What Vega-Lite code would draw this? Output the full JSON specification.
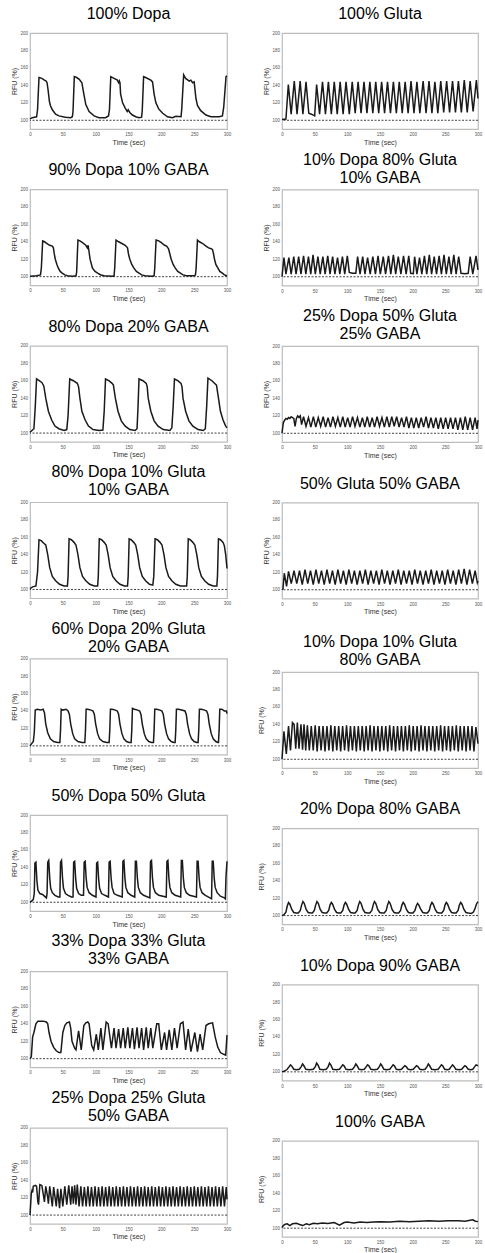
{
"$schema":"https://vega.github.io/schema/vega-lite/v6.json",
"padding":{"left":10,"top":5,"right":0,"bottom":0},
"config":{
 "font":"Liberation Sans",
 "view":{"stroke":"#bdbdbd","strokeWidth":1.2},
 "axis":{"grid":false,"domain":false,"ticks":false,"labelFontSize":4.5,"labelColor":"#555","labelPadding":2.5,"labelFlush":false,"labelOverlap":false,"titleFontSize":7,"titleFontWeight":"normal","titleColor":"#333","titlePadding":2},
 "title":{"fontSize":16,"fontWeight":"normal","color":"#000","lineHeight":18,"anchor":"middle"}
},
"datasets":{
"d1":[{"t":0,"v":101.5},{"t":3.5,"v":103},{"t":10,"v":104},{"t":11.5,"v":112},{"t":13.7,"v":149},{"t":18,"v":148},{"t":22,"v":146},{"t":24.5,"v":145},{"t":26,"v":143},{"t":27.5,"v":135},{"t":29.5,"v":122},{"t":31,"v":117},{"t":34,"v":112},{"t":39,"v":107},{"t":44,"v":105},{"t":54,"v":103.5},{"t":62,"v":103},{"t":64.5,"v":104},{"t":65.5,"v":110},{"t":67.5,"v":150},{"t":71,"v":149},{"t":75,"v":147},{"t":79,"v":143},{"t":82,"v":130},{"t":85,"v":118},{"t":90,"v":110},{"t":97.6,"v":105},{"t":105,"v":103},{"t":115,"v":103},{"t":119.5,"v":105},{"t":121,"v":112},{"t":123,"v":150},{"t":128,"v":148},{"t":133,"v":146},{"t":135,"v":143},{"t":136,"v":145},{"t":137,"v":143},{"t":138,"v":130},{"t":141,"v":120},{"t":145,"v":114},{"t":148,"v":110},{"t":149.5,"v":112},{"t":152,"v":109},{"t":156,"v":106},{"t":161,"v":104},{"t":166,"v":103},{"t":170,"v":103.5},{"t":171,"v":112},{"t":173,"v":150},{"t":176,"v":149},{"t":184,"v":146},{"t":186.6,"v":144},{"t":189,"v":130},{"t":191.7,"v":120},{"t":196,"v":113},{"t":202,"v":108},{"t":209.5,"v":104},{"t":217,"v":103},{"t":222,"v":104.5},{"t":230,"v":104},{"t":231,"v":112},{"t":234,"v":152},{"t":237,"v":148},{"t":242.5,"v":145},{"t":245,"v":146},{"t":247.6,"v":143},{"t":250,"v":144},{"t":252.7,"v":125},{"t":255,"v":117},{"t":260,"v":111},{"t":268,"v":106},{"t":275.5,"v":104},{"t":288,"v":104},{"t":293,"v":105},{"t":295,"v":115},{"t":298.5,"v":150},{"t":300,"v":151}],
"d2":[{"t":0,"v":101},{"t":6,"v":101.5},{"t":9.7,"v":141},{"t":14,"v":107},{"t":18.8,"v":145},{"t":23,"v":107},{"t":27.8,"v":145},{"t":32,"v":107},{"t":36.8,"v":144},{"t":41,"v":108},{"t":45,"v":107},{"t":50,"v":105},{"t":53,"v":141},{"t":57.5,"v":107},{"t":62,"v":144},{"t":66.5,"v":107},{"t":71,"v":144},{"t":75.5,"v":107},{"t":80,"v":144},{"t":84.5,"v":107},{"t":89,"v":144},{"t":93.5,"v":107},{"t":98,"v":144},{"t":103,"v":107},{"t":107.5,"v":144},{"t":112,"v":108},{"t":116.5,"v":144},{"t":121,"v":108},{"t":125.5,"v":144},{"t":130,"v":108},{"t":134.5,"v":144},{"t":139,"v":108},{"t":143.5,"v":144},{"t":148,"v":108},{"t":152.5,"v":144},{"t":157,"v":108},{"t":161.5,"v":144},{"t":166,"v":108},{"t":170.5,"v":144},{"t":175,"v":108},{"t":179.5,"v":144},{"t":184,"v":108},{"t":188.5,"v":144},{"t":193,"v":108},{"t":197.5,"v":145},{"t":202,"v":108},{"t":206.5,"v":144},{"t":211,"v":108},{"t":216,"v":145},{"t":220.5,"v":108},{"t":225,"v":145},{"t":229.5,"v":108},{"t":234,"v":144},{"t":238.5,"v":108},{"t":243,"v":145},{"t":247.5,"v":109},{"t":252,"v":145},{"t":256.5,"v":109},{"t":261,"v":145},{"t":265.5,"v":109},{"t":270,"v":145},{"t":274.5,"v":109},{"t":279,"v":146},{"t":283.5,"v":109},{"t":288,"v":145},{"t":292.5,"v":110},{"t":297.5,"v":146},{"t":300,"v":125}],
"d3":[{"t":0,"v":100.5},{"t":10,"v":101},{"t":16,"v":102},{"t":17.3,"v":110},{"t":19.3,"v":141},{"t":22,"v":140},{"t":26,"v":138},{"t":30,"v":136},{"t":34,"v":135},{"t":35.6,"v":133},{"t":37,"v":126},{"t":38.5,"v":120},{"t":41,"v":114},{"t":43,"v":110},{"t":46,"v":106},{"t":49,"v":104},{"t":53,"v":102},{"t":57,"v":101},{"t":65,"v":100.5},{"t":70,"v":101},{"t":71,"v":105},{"t":73,"v":142},{"t":76,"v":141},{"t":80,"v":139},{"t":85,"v":136},{"t":87.4,"v":133},{"t":88.5,"v":136},{"t":90,"v":128},{"t":91.5,"v":120},{"t":95,"v":110},{"t":99,"v":106},{"t":103,"v":104},{"t":108,"v":102},{"t":113,"v":101},{"t":125,"v":100.5},{"t":128,"v":101},{"t":129,"v":110},{"t":131,"v":142},{"t":135,"v":140},{"t":140,"v":138},{"t":145,"v":136},{"t":148.5,"v":133},{"t":150,"v":126},{"t":152,"v":120},{"t":155,"v":114},{"t":158,"v":110},{"t":162,"v":106},{"t":166,"v":104},{"t":170,"v":102},{"t":175,"v":101},{"t":186,"v":100.5},{"t":189,"v":101},{"t":190,"v":110},{"t":192,"v":142},{"t":196,"v":141},{"t":200,"v":139},{"t":205,"v":136},{"t":208,"v":135},{"t":211,"v":132},{"t":213,"v":126},{"t":215,"v":120},{"t":218,"v":114},{"t":221,"v":110},{"t":225,"v":106},{"t":229,"v":104},{"t":233,"v":102},{"t":238,"v":101},{"t":250,"v":101},{"t":252,"v":102},{"t":253,"v":110},{"t":255,"v":142},{"t":258,"v":140},{"t":263,"v":138},{"t":268,"v":135},{"t":272,"v":133},{"t":276,"v":132},{"t":278,"v":131},{"t":279.5,"v":126},{"t":281,"v":120},{"t":283,"v":114},{"t":286,"v":110},{"t":289,"v":106},{"t":293,"v":104},{"t":296,"v":102},{"t":300,"v":101}],
"d4":[{"t":0,"v":100},{"t":3,"v":122},{"t":6,"v":103},{"t":10.5,"v":122},{"t":14,"v":103},{"t":18,"v":123},{"t":21.5,"v":103},{"t":25.5,"v":123},{"t":29,"v":103},{"t":33,"v":124},{"t":36.5,"v":103},{"t":40.5,"v":123},{"t":44,"v":103},{"t":47.5,"v":125},{"t":51,"v":103},{"t":55,"v":123},{"t":58.5,"v":103},{"t":62.5,"v":123},{"t":66,"v":103},{"t":70,"v":124},{"t":73.5,"v":103},{"t":77.5,"v":123},{"t":81,"v":103},{"t":85,"v":122},{"t":88.5,"v":103},{"t":92.5,"v":123},{"t":96,"v":103},{"t":100,"v":124},{"t":103,"v":105},{"t":108,"v":104},{"t":113,"v":104},{"t":115.7,"v":123},{"t":119.5,"v":103},{"t":123.5,"v":123},{"t":127,"v":103},{"t":131,"v":122},{"t":135,"v":103},{"t":139,"v":123},{"t":143,"v":103},{"t":147,"v":124},{"t":150.5,"v":103},{"t":155,"v":123},{"t":158.5,"v":103},{"t":163,"v":124},{"t":166.5,"v":103},{"t":170.5,"v":125},{"t":174,"v":103},{"t":178,"v":123},{"t":182,"v":103},{"t":186,"v":124},{"t":190,"v":103},{"t":194,"v":124},{"t":197,"v":104},{"t":201,"v":103.5},{"t":203,"v":123},{"t":206.5,"v":103},{"t":210.5,"v":122},{"t":214,"v":103},{"t":218,"v":124},{"t":221.5,"v":103},{"t":225.5,"v":125},{"t":229,"v":103},{"t":233,"v":123},{"t":236.5,"v":103},{"t":240.5,"v":124},{"t":244,"v":103},{"t":248,"v":125},{"t":251.5,"v":103},{"t":255.5,"v":123},{"t":259,"v":103},{"t":263,"v":125},{"t":266.5,"v":103},{"t":270.5,"v":123},{"t":274,"v":104},{"t":280,"v":103.5},{"t":285,"v":104},{"t":288,"v":123},{"t":292,"v":103},{"t":297,"v":124},{"t":300,"v":108}],
"d5":[{"t":0,"v":101},{"t":3,"v":103},{"t":6,"v":105},{"t":8,"v":130},{"t":10,"v":162},{"t":14,"v":160},{"t":18,"v":158},{"t":21,"v":154},{"t":24,"v":140},{"t":28,"v":125},{"t":33,"v":115},{"t":38,"v":108},{"t":44,"v":105},{"t":52,"v":103},{"t":56,"v":104},{"t":58,"v":120},{"t":60.5,"v":162},{"t":66,"v":160},{"t":72,"v":157},{"t":74,"v":153},{"t":76,"v":140},{"t":79,"v":125},{"t":84,"v":115},{"t":89,"v":108},{"t":96,"v":104},{"t":105,"v":103},{"t":111,"v":103.5},{"t":113,"v":125},{"t":115,"v":162},{"t":120,"v":160},{"t":125,"v":157},{"t":127,"v":155},{"t":130,"v":140},{"t":134,"v":125},{"t":139,"v":114},{"t":145,"v":108},{"t":152,"v":104},{"t":160,"v":103},{"t":163,"v":105},{"t":164.5,"v":130},{"t":166,"v":162},{"t":172,"v":160},{"t":177,"v":157},{"t":178.5,"v":153},{"t":180,"v":140},{"t":184,"v":125},{"t":189,"v":114},{"t":195,"v":108},{"t":203,"v":104},{"t":213,"v":103},{"t":216,"v":106},{"t":218,"v":130},{"t":220,"v":162},{"t":225,"v":160},{"t":230,"v":157},{"t":231.5,"v":153},{"t":233,"v":140},{"t":237,"v":125},{"t":242,"v":114},{"t":248,"v":108},{"t":256,"v":104},{"t":264,"v":103},{"t":267,"v":105},{"t":269,"v":130},{"t":271,"v":163},{"t":277,"v":160},{"t":281,"v":157},{"t":284,"v":155},{"t":287,"v":140},{"t":290,"v":125},{"t":294,"v":115},{"t":298,"v":108},{"t":300,"v":106}],
"d6":[{"t":0,"v":100},{"t":2,"v":112},{"t":4,"v":115},{"t":6,"v":117},{"t":8,"v":116},{"t":10,"v":118},{"t":12,"v":117},{"t":14,"v":119},{"t":16,"v":118},{"t":18,"v":117},{"t":20,"v":108},{"t":22,"v":117},{"t":24,"v":120},{"t":26,"v":118},{"t":28,"v":120},{"t":30,"v":110},{"t":33,"v":119},{"t":36.7,"v":108},{"t":40.5,"v":118},{"t":44.2,"v":107},{"t":48,"v":119},{"t":51.7,"v":107},{"t":55.5,"v":118},{"t":59.2,"v":108},{"t":63,"v":119},{"t":66.7,"v":107},{"t":70.5,"v":118},{"t":74.2,"v":107},{"t":78,"v":119},{"t":81.7,"v":108},{"t":85.5,"v":118},{"t":89.2,"v":107},{"t":93,"v":119},{"t":96.7,"v":107},{"t":100.5,"v":118},{"t":104.2,"v":107},{"t":108,"v":119},{"t":111.7,"v":108},{"t":115.5,"v":118},{"t":119.2,"v":107},{"t":123,"v":118},{"t":126.7,"v":107},{"t":130.5,"v":119},{"t":134.2,"v":107},{"t":138,"v":118},{"t":141.7,"v":107},{"t":145.5,"v":119},{"t":149.2,"v":108},{"t":153,"v":118},{"t":156.7,"v":107},{"t":160.5,"v":119},{"t":164.2,"v":107},{"t":168,"v":119},{"t":171.7,"v":108},{"t":175.5,"v":119},{"t":179.2,"v":107},{"t":183,"v":118},{"t":186.7,"v":107},{"t":190.5,"v":119},{"t":194.2,"v":106},{"t":198,"v":118},{"t":201.7,"v":106},{"t":205.5,"v":118},{"t":209.2,"v":106},{"t":213,"v":118},{"t":216.7,"v":107},{"t":220.5,"v":119},{"t":224.2,"v":106},{"t":228,"v":118},{"t":231.7,"v":106},{"t":235.5,"v":118},{"t":239.2,"v":105},{"t":243,"v":118},{"t":246.7,"v":105},{"t":250.5,"v":118},{"t":254.2,"v":105},{"t":258,"v":118},{"t":261.7,"v":105},{"t":265.5,"v":118},{"t":269.2,"v":104},{"t":273,"v":118},{"t":276.7,"v":104},{"t":280.5,"v":119},{"t":284.2,"v":104},{"t":288,"v":118},{"t":291.7,"v":104},{"t":295.5,"v":118},{"t":298.5,"v":105},{"t":300,"v":115}],
"d7":[{"t":0,"v":101},{"t":4,"v":103},{"t":9,"v":104},{"t":11.5,"v":120},{"t":13.7,"v":157},{"t":17,"v":156},{"t":21,"v":153},{"t":24,"v":151},{"t":27,"v":140},{"t":30,"v":125},{"t":34,"v":115},{"t":39,"v":110},{"t":45,"v":106},{"t":52,"v":104},{"t":57,"v":104},{"t":58,"v":115},{"t":59.5,"v":158},{"t":63,"v":157},{"t":67,"v":154},{"t":70,"v":151},{"t":73,"v":140},{"t":76,"v":125},{"t":80,"v":115},{"t":85,"v":110},{"t":91,"v":106},{"t":98,"v":104},{"t":103,"v":104},{"t":104,"v":115},{"t":105.5,"v":158},{"t":109,"v":157},{"t":113,"v":154},{"t":116,"v":151},{"t":119,"v":140},{"t":122,"v":125},{"t":126,"v":115},{"t":131,"v":110},{"t":137,"v":106},{"t":144,"v":104},{"t":148.5,"v":104},{"t":149.5,"v":115},{"t":151,"v":158},{"t":154,"v":157},{"t":158,"v":154},{"t":161,"v":151},{"t":164,"v":140},{"t":167,"v":125},{"t":171,"v":115},{"t":176,"v":110},{"t":182,"v":106},{"t":187,"v":105},{"t":188.5,"v":115},{"t":190.5,"v":158},{"t":194,"v":157},{"t":198,"v":154},{"t":201,"v":151},{"t":204,"v":140},{"t":207,"v":125},{"t":211,"v":115},{"t":216,"v":110},{"t":222,"v":106},{"t":229,"v":104},{"t":238.5,"v":104},{"t":239.5,"v":115},{"t":241,"v":158},{"t":244,"v":157},{"t":248,"v":154},{"t":251,"v":151},{"t":254,"v":140},{"t":257,"v":125},{"t":261,"v":115},{"t":266,"v":110},{"t":272,"v":106},{"t":279,"v":104},{"t":284.5,"v":104},{"t":285.5,"v":115},{"t":287,"v":158},{"t":290,"v":157},{"t":294,"v":154},{"t":296,"v":150},{"t":298,"v":140},{"t":300,"v":124}],
"d8":[{"t":0,"v":100},{"t":1.5,"v":101},{"t":3.5,"v":119},{"t":7,"v":104},{"t":10,"v":121},{"t":14.2,"v":107},{"t":18.4,"v":122},{"t":22.6,"v":107},{"t":26.8,"v":122},{"t":31,"v":106},{"t":35.2,"v":123},{"t":39.4,"v":107},{"t":43.6,"v":122},{"t":47.8,"v":106},{"t":52,"v":123},{"t":56.2,"v":107},{"t":60.4,"v":122},{"t":64.6,"v":106},{"t":68.8,"v":123},{"t":73,"v":107},{"t":77.2,"v":122},{"t":81.4,"v":106},{"t":85.6,"v":123},{"t":89.8,"v":107},{"t":94,"v":122},{"t":98.2,"v":106},{"t":102.4,"v":123},{"t":106.6,"v":107},{"t":110.8,"v":122},{"t":115,"v":106},{"t":119.2,"v":122},{"t":123.4,"v":107},{"t":127.6,"v":123},{"t":131.8,"v":106},{"t":136,"v":122},{"t":140.2,"v":107},{"t":144.4,"v":122},{"t":148.6,"v":106},{"t":152.8,"v":123},{"t":157,"v":107},{"t":161.2,"v":122},{"t":165.4,"v":106},{"t":169.6,"v":122},{"t":173.8,"v":107},{"t":178,"v":123},{"t":182.2,"v":106},{"t":186.4,"v":122},{"t":190.6,"v":107},{"t":194.8,"v":122},{"t":199,"v":106},{"t":203.2,"v":123},{"t":207.4,"v":107},{"t":211.6,"v":122},{"t":215.8,"v":106},{"t":220,"v":122},{"t":224.2,"v":107},{"t":228.4,"v":123},{"t":232.6,"v":106},{"t":236.8,"v":122},{"t":241,"v":107},{"t":245.2,"v":122},{"t":249.4,"v":106},{"t":253.6,"v":123},{"t":257.8,"v":107},{"t":262,"v":122},{"t":266.2,"v":106},{"t":270.4,"v":123},{"t":274.6,"v":107},{"t":278.8,"v":124},{"t":283,"v":106},{"t":287.2,"v":123},{"t":291.4,"v":107},{"t":295.6,"v":122},{"t":299,"v":108},{"t":300,"v":110}],
"d9":[{"t":0,"v":100},{"t":2,"v":102},{"t":5,"v":105},{"t":6.5,"v":115},{"t":8,"v":141},{"t":11,"v":142},{"t":16,"v":141},{"t":20,"v":142},{"t":22,"v":138},{"t":24,"v":125},{"t":27,"v":115},{"t":31,"v":108},{"t":36,"v":105},{"t":42,"v":104},{"t":45.5,"v":104},{"t":46.5,"v":118},{"t":47.5,"v":142},{"t":50,"v":141},{"t":55,"v":142},{"t":58,"v":140},{"t":60,"v":136},{"t":62,"v":125},{"t":65,"v":114},{"t":68,"v":108},{"t":73,"v":105},{"t":79,"v":104},{"t":83.5,"v":104},{"t":84.5,"v":118},{"t":85.5,"v":142},{"t":88,"v":142},{"t":93,"v":141},{"t":96,"v":140},{"t":98,"v":136},{"t":100,"v":125},{"t":103,"v":114},{"t":106,"v":108},{"t":111,"v":105},{"t":117,"v":104},{"t":120.5,"v":104},{"t":121.5,"v":118},{"t":122.5,"v":142},{"t":125,"v":142},{"t":130,"v":141},{"t":133,"v":140},{"t":135,"v":136},{"t":137,"v":125},{"t":140,"v":114},{"t":143,"v":108},{"t":147,"v":105},{"t":151,"v":104},{"t":154,"v":104},{"t":155,"v":118},{"t":156,"v":143},{"t":159,"v":142},{"t":164,"v":141},{"t":167,"v":140},{"t":169,"v":136},{"t":171,"v":125},{"t":174,"v":114},{"t":177,"v":108},{"t":181,"v":105},{"t":185,"v":104},{"t":188,"v":104},{"t":189,"v":118},{"t":190,"v":142},{"t":193,"v":142},{"t":198,"v":141},{"t":201,"v":140},{"t":203,"v":136},{"t":205,"v":125},{"t":208,"v":114},{"t":211,"v":108},{"t":215,"v":105},{"t":219,"v":104},{"t":221,"v":104},{"t":222,"v":118},{"t":223,"v":142},{"t":226,"v":142},{"t":231,"v":141},{"t":236,"v":140},{"t":238,"v":136},{"t":240,"v":125},{"t":243,"v":114},{"t":246,"v":108},{"t":250,"v":105},{"t":254,"v":104},{"t":256,"v":104},{"t":257,"v":118},{"t":258,"v":142},{"t":261,"v":142},{"t":266,"v":141},{"t":269,"v":140},{"t":271,"v":136},{"t":273,"v":125},{"t":276,"v":114},{"t":279,"v":108},{"t":283,"v":105},{"t":286,"v":104},{"t":287,"v":104},{"t":288,"v":118},{"t":289,"v":142},{"t":292,"v":142},{"t":296,"v":140},{"t":299,"v":140},{"t":300,"v":137}],
"d10":[{"t":0,"v":100},{"t":3,"v":132},{"t":6.6,"v":106},{"t":10,"v":138},{"t":13,"v":110},{"t":16,"v":142},{"t":18.5,"v":140},{"t":21,"v":112},{"t":23.5,"v":142},{"t":26,"v":112},{"t":29,"v":140},{"t":31.5,"v":111},{"t":33.7,"v":140},{"t":36.3,"v":110},{"t":38.8,"v":139},{"t":41.8,"v":110},{"t":44.8,"v":138},{"t":47.8,"v":110},{"t":50.8,"v":139},{"t":53.8,"v":109},{"t":56.8,"v":138},{"t":59.8,"v":110},{"t":62.8,"v":138},{"t":65.8,"v":109},{"t":68.8,"v":138},{"t":71.8,"v":110},{"t":74.8,"v":139},{"t":77.8,"v":109},{"t":80.8,"v":138},{"t":83.8,"v":110},{"t":86.8,"v":138},{"t":89.8,"v":109},{"t":92.8,"v":138},{"t":95.8,"v":110},{"t":98.8,"v":139},{"t":101.8,"v":109},{"t":104.8,"v":138},{"t":107.8,"v":110},{"t":110.8,"v":138},{"t":113.8,"v":109},{"t":116.8,"v":138},{"t":119.8,"v":110},{"t":122.8,"v":138},{"t":125.8,"v":109},{"t":128.8,"v":138},{"t":131.8,"v":110},{"t":134.8,"v":139},{"t":137.8,"v":109},{"t":140.8,"v":138},{"t":143.8,"v":110},{"t":146.8,"v":138},{"t":149.8,"v":109},{"t":152.8,"v":138},{"t":155.8,"v":110},{"t":158.8,"v":138},{"t":161.8,"v":109},{"t":164.8,"v":139},{"t":167.8,"v":110},{"t":170.8,"v":138},{"t":173.8,"v":109},{"t":176.8,"v":138},{"t":179.8,"v":110},{"t":182.8,"v":138},{"t":185.8,"v":109},{"t":188.8,"v":138},{"t":191.8,"v":110},{"t":194.8,"v":139},{"t":197.8,"v":109},{"t":200.8,"v":138},{"t":203.8,"v":110},{"t":206.8,"v":138},{"t":209.8,"v":109},{"t":212.8,"v":139},{"t":215.8,"v":110},{"t":218.8,"v":138},{"t":221.8,"v":109},{"t":224.8,"v":138},{"t":227.8,"v":110},{"t":230.8,"v":138},{"t":233.8,"v":109},{"t":236.8,"v":138},{"t":239.8,"v":110},{"t":242.8,"v":139},{"t":245.8,"v":109},{"t":248.8,"v":138},{"t":251.8,"v":110},{"t":254.8,"v":138},{"t":257.8,"v":109},{"t":260.8,"v":138},{"t":263.8,"v":110},{"t":266.8,"v":139},{"t":269.8,"v":109},{"t":272.8,"v":138},{"t":275.8,"v":110},{"t":278.8,"v":138},{"t":281.8,"v":109},{"t":284.8,"v":138},{"t":287.8,"v":110},{"t":290.8,"v":138},{"t":293.8,"v":109},{"t":296.8,"v":137},{"t":300,"v":118}],
"d11":[{"t":0,"v":100},{"t":2,"v":101},{"t":5,"v":103},{"t":6.5,"v":110},{"t":7.5,"v":145},{"t":9,"v":146},{"t":10.5,"v":125},{"t":12,"v":114},{"t":15,"v":110},{"t":19,"v":109},{"t":22,"v":107},{"t":25,"v":105},{"t":26,"v":110},{"t":27,"v":146},{"t":28.5,"v":148},{"t":30,"v":128},{"t":31.5,"v":116},{"t":34,"v":111},{"t":38,"v":108},{"t":43,"v":106},{"t":45.5,"v":106},{"t":46.5,"v":146},{"t":48,"v":148},{"t":49.5,"v":128},{"t":51,"v":116},{"t":54,"v":110},{"t":58,"v":108},{"t":63,"v":106},{"t":65.5,"v":106},{"t":66.5,"v":146},{"t":68,"v":147},{"t":69.5,"v":128},{"t":71,"v":116},{"t":74,"v":110},{"t":78,"v":108},{"t":81.5,"v":108},{"t":82.5,"v":146},{"t":84,"v":147},{"t":85.5,"v":128},{"t":87,"v":117},{"t":90,"v":111},{"t":95,"v":108},{"t":100.5,"v":106},{"t":101.5,"v":145},{"t":103,"v":146},{"t":104.5,"v":127},{"t":106,"v":116},{"t":109,"v":110},{"t":114,"v":108},{"t":119.5,"v":106},{"t":120.5,"v":146},{"t":122,"v":147},{"t":123.5,"v":128},{"t":125,"v":117},{"t":128,"v":110},{"t":133,"v":108},{"t":140.5,"v":106},{"t":141.5,"v":147},{"t":143,"v":148},{"t":144.5,"v":128},{"t":146,"v":117},{"t":149,"v":111},{"t":154,"v":108},{"t":159.5,"v":106},{"t":160.5,"v":147},{"t":162,"v":147},{"t":163.5,"v":128},{"t":165,"v":117},{"t":168,"v":111},{"t":173,"v":108},{"t":182.5,"v":105},{"t":183.5,"v":147},{"t":185,"v":148},{"t":186.5,"v":128},{"t":188,"v":117},{"t":191,"v":111},{"t":196,"v":108},{"t":207.5,"v":106},{"t":208.5,"v":147},{"t":210,"v":148},{"t":211.5,"v":128},{"t":213,"v":117},{"t":216,"v":111},{"t":221,"v":108},{"t":229.5,"v":106},{"t":230.5,"v":148},{"t":232,"v":148},{"t":233.5,"v":128},{"t":235,"v":117},{"t":238,"v":111},{"t":243,"v":108},{"t":253.5,"v":106},{"t":254.5,"v":147},{"t":256,"v":147},{"t":257.5,"v":128},{"t":259,"v":117},{"t":262,"v":111},{"t":267,"v":108},{"t":272,"v":106},{"t":276.5,"v":104},{"t":277.5,"v":147},{"t":279,"v":147},{"t":280.5,"v":128},{"t":282,"v":117},{"t":285,"v":111},{"t":290,"v":107},{"t":296,"v":105},{"t":297.5,"v":104},{"t":298.5,"v":130},{"t":300,"v":147}],
"d12":[{"t":0,"v":100},{"t":3,"v":101},{"t":6,"v":104},{"t":8,"v":111},{"t":10,"v":115},{"t":12,"v":113},{"t":15,"v":107},{"t":18,"v":103.5},{"t":22,"v":103},{"t":25,"v":103},{"t":28,"v":106},{"t":30,"v":112},{"t":32,"v":116},{"t":34,"v":114},{"t":37,"v":107},{"t":40,"v":103.5},{"t":44,"v":103},{"t":46.5,"v":103},{"t":49.5,"v":106},{"t":51.5,"v":112},{"t":53.5,"v":116},{"t":55.5,"v":114},{"t":58.5,"v":107},{"t":61.5,"v":103.5},{"t":65,"v":103},{"t":68.5,"v":103},{"t":71.5,"v":106},{"t":73.5,"v":112},{"t":75.5,"v":115},{"t":77.5,"v":113},{"t":80.5,"v":107},{"t":83.5,"v":103.5},{"t":87,"v":103},{"t":90,"v":103},{"t":93,"v":106},{"t":95,"v":112},{"t":97,"v":115},{"t":99,"v":113},{"t":102,"v":107},{"t":105,"v":103.5},{"t":109,"v":103},{"t":112,"v":103},{"t":115,"v":106},{"t":117,"v":112},{"t":119,"v":116},{"t":121,"v":114},{"t":124,"v":107},{"t":127,"v":103.5},{"t":131,"v":103},{"t":134.5,"v":103},{"t":137.5,"v":106},{"t":139.5,"v":112},{"t":141.5,"v":116},{"t":143.5,"v":114},{"t":146.5,"v":107},{"t":149.5,"v":103.5},{"t":153,"v":103},{"t":156.5,"v":103},{"t":159.5,"v":106},{"t":161.5,"v":112},{"t":163.5,"v":116},{"t":165.5,"v":114},{"t":168.5,"v":107},{"t":171.5,"v":103.5},{"t":175,"v":103},{"t":178.5,"v":103},{"t":181.5,"v":106},{"t":183.5,"v":112},{"t":185.5,"v":115},{"t":187.5,"v":113},{"t":190.5,"v":107},{"t":193.5,"v":103.5},{"t":197,"v":103},{"t":200.5,"v":103},{"t":203.5,"v":106},{"t":205.5,"v":111},{"t":207.5,"v":114},{"t":209.5,"v":112},{"t":212.5,"v":107},{"t":215.5,"v":103.5},{"t":219,"v":103},{"t":222.5,"v":103},{"t":225.5,"v":106},{"t":227.5,"v":112},{"t":229.5,"v":115},{"t":231.5,"v":113},{"t":234.5,"v":107},{"t":237.5,"v":103.5},{"t":241,"v":103},{"t":244.5,"v":103},{"t":247.5,"v":106},{"t":249.5,"v":112},{"t":251.5,"v":115},{"t":253.5,"v":113},{"t":256.5,"v":107},{"t":259.5,"v":103.5},{"t":263,"v":103},{"t":266.5,"v":103},{"t":269.5,"v":106},{"t":271.5,"v":112},{"t":273.5,"v":115},{"t":275.5,"v":113},{"t":278.5,"v":107},{"t":281.5,"v":103.5},{"t":285,"v":103},{"t":290,"v":102.5},{"t":293,"v":104},{"t":295.5,"v":108},{"t":297.5,"v":113},{"t":300,"v":116}],
"d13":[{"t":0,"v":100},{"t":2,"v":102},{"t":4,"v":125},{"t":6,"v":130},{"t":9,"v":140},{"t":12,"v":143},{"t":20,"v":143},{"t":25,"v":142},{"t":27,"v":140},{"t":29,"v":130},{"t":32,"v":120},{"t":36,"v":113},{"t":40,"v":109},{"t":44,"v":107},{"t":47,"v":107},{"t":50,"v":130},{"t":53,"v":138},{"t":56,"v":141},{"t":60,"v":142},{"t":62,"v":135},{"t":64,"v":120},{"t":68,"v":112},{"t":70,"v":110},{"t":74,"v":132},{"t":78,"v":110},{"t":82,"v":138},{"t":85,"v":141},{"t":88,"v":142},{"t":90,"v":140},{"t":94,"v":115},{"t":97,"v":110},{"t":101,"v":128},{"t":104,"v":110},{"t":108,"v":135},{"t":111,"v":110},{"t":116,"v":142},{"t":119,"v":140},{"t":124,"v":112},{"t":128,"v":135},{"t":131,"v":112},{"t":135,"v":134},{"t":138,"v":112},{"t":142,"v":135},{"t":145,"v":112},{"t":149,"v":136},{"t":152,"v":112},{"t":156,"v":135},{"t":159,"v":111},{"t":163,"v":136},{"t":166,"v":112},{"t":170,"v":135},{"t":173,"v":110},{"t":177,"v":136},{"t":180,"v":112},{"t":184,"v":135},{"t":187,"v":112},{"t":193,"v":140},{"t":196,"v":140},{"t":200,"v":110},{"t":205,"v":130},{"t":208,"v":110},{"t":212,"v":133},{"t":216,"v":110},{"t":220,"v":135},{"t":224,"v":112},{"t":229,"v":140},{"t":233,"v":142},{"t":237,"v":110},{"t":241,"v":134},{"t":245,"v":108},{"t":251,"v":130},{"t":255,"v":108},{"t":259,"v":128},{"t":263,"v":110},{"t":268,"v":138},{"t":272,"v":140},{"t":278,"v":141},{"t":282,"v":125},{"t":286,"v":113},{"t":290,"v":107},{"t":295,"v":105},{"t":298,"v":104},{"t":300,"v":127}],
"d14":[{"t":0,"v":100},{"t":4,"v":101},{"t":8,"v":103},{"t":11,"v":106},{"t":13,"v":108},{"t":15,"v":106.5},{"t":18,"v":103},{"t":22,"v":102.5},{"t":26.5,"v":103},{"t":29.5,"v":106},{"t":31.5,"v":109},{"t":33.5,"v":107},{"t":36.5,"v":103},{"t":42,"v":102.5},{"t":48,"v":103},{"t":51,"v":106},{"t":53,"v":110},{"t":55,"v":108},{"t":58,"v":103},{"t":63,"v":102.5},{"t":67.7,"v":103},{"t":70.7,"v":106},{"t":72.7,"v":110},{"t":74.7,"v":108},{"t":77.7,"v":103},{"t":83,"v":102.5},{"t":88,"v":103},{"t":91,"v":106},{"t":93,"v":108},{"t":95,"v":107},{"t":98,"v":103},{"t":103,"v":102.5},{"t":108,"v":103},{"t":111,"v":106},{"t":113,"v":109},{"t":115,"v":107},{"t":118,"v":103},{"t":122,"v":102.5},{"t":126,"v":103},{"t":129,"v":106},{"t":131,"v":108},{"t":133,"v":107},{"t":136,"v":103},{"t":141,"v":102.5},{"t":146,"v":103},{"t":149,"v":106},{"t":151,"v":109},{"t":153,"v":107},{"t":156,"v":103},{"t":160,"v":102.5},{"t":165,"v":103},{"t":168,"v":106},{"t":170,"v":108},{"t":172,"v":107},{"t":175,"v":103},{"t":179,"v":102.5},{"t":183,"v":103},{"t":186,"v":105.5},{"t":188,"v":107},{"t":190,"v":106},{"t":193,"v":103},{"t":197,"v":102.5},{"t":201,"v":103},{"t":204,"v":105.5},{"t":206,"v":107},{"t":208,"v":106},{"t":211,"v":103},{"t":215,"v":102.5},{"t":219,"v":103},{"t":222,"v":106},{"t":224,"v":109},{"t":226,"v":107},{"t":229,"v":103},{"t":234,"v":102.5},{"t":239,"v":103},{"t":242,"v":106},{"t":244,"v":108},{"t":246,"v":107},{"t":249,"v":103},{"t":253,"v":102.5},{"t":256,"v":103},{"t":259,"v":106},{"t":261,"v":108},{"t":263,"v":106.5},{"t":266,"v":103},{"t":271,"v":102.5},{"t":275,"v":103},{"t":278,"v":105.5},{"t":280,"v":107},{"t":282,"v":106},{"t":285,"v":103},{"t":289,"v":102.5},{"t":292,"v":103},{"t":295,"v":106},{"t":297,"v":108},{"t":300,"v":107}],
"d15":[{"t":0,"v":100},{"t":2,"v":125},{"t":3,"v":128},{"t":4,"v":126},{"t":5,"v":133},{"t":8,"v":134},{"t":10,"v":133},{"t":12,"v":115},{"t":13,"v":112},{"t":15,"v":135},{"t":18,"v":134},{"t":20,"v":125},{"t":22,"v":115},{"t":24,"v":133},{"t":27,"v":120},{"t":28,"v":113},{"t":30,"v":133},{"t":34,"v":110},{"t":36,"v":132},{"t":40,"v":110},{"t":42,"v":130},{"t":45,"v":108},{"t":47,"v":130},{"t":50,"v":110},{"t":53,"v":133},{"t":56,"v":112},{"t":59,"v":134},{"t":62,"v":112},{"t":64,"v":133},{"t":66,"v":113},{"t":68,"v":134},{"t":70,"v":112},{"t":72,"v":135},{"t":74.7,"v":110},{"t":77.4,"v":133},{"t":80.1,"v":110},{"t":82.8,"v":132},{"t":85.5,"v":110},{"t":88.2,"v":133},{"t":90.9,"v":110},{"t":93.6,"v":132},{"t":96.3,"v":110},{"t":99,"v":133},{"t":101.7,"v":110},{"t":104.4,"v":132},{"t":107.1,"v":110},{"t":109.8,"v":133},{"t":112.5,"v":110},{"t":115.2,"v":132},{"t":117.9,"v":110},{"t":120.6,"v":133},{"t":123.3,"v":110},{"t":126,"v":132},{"t":128.7,"v":110},{"t":131.4,"v":133},{"t":134.1,"v":110},{"t":136.8,"v":132},{"t":139.5,"v":110},{"t":142.2,"v":133},{"t":144.9,"v":110},{"t":147.6,"v":132},{"t":150.3,"v":110},{"t":153,"v":133},{"t":155.7,"v":110},{"t":158.4,"v":132},{"t":161.1,"v":110},{"t":163.8,"v":133},{"t":166.5,"v":110},{"t":169.2,"v":132},{"t":171.9,"v":110},{"t":174.6,"v":133},{"t":177.3,"v":110},{"t":180,"v":132},{"t":182.7,"v":110},{"t":185.4,"v":133},{"t":188.1,"v":110},{"t":190.8,"v":132},{"t":193.5,"v":110},{"t":196.2,"v":133},{"t":198.9,"v":110},{"t":201.6,"v":132},{"t":204.3,"v":110},{"t":207,"v":133},{"t":209.7,"v":110},{"t":212.4,"v":132},{"t":215.1,"v":110},{"t":217.8,"v":133},{"t":220.5,"v":110},{"t":223.2,"v":132},{"t":225.9,"v":110},{"t":228.6,"v":133},{"t":231.3,"v":110},{"t":234,"v":132},{"t":236.7,"v":110},{"t":239.4,"v":133},{"t":242.1,"v":110},{"t":244.8,"v":132},{"t":247.5,"v":110},{"t":250.2,"v":133},{"t":252.9,"v":110},{"t":255.6,"v":132},{"t":258.3,"v":110},{"t":261,"v":133},{"t":263.7,"v":110},{"t":266.4,"v":132},{"t":269.1,"v":110},{"t":271.8,"v":133},{"t":274.5,"v":110},{"t":277.2,"v":132},{"t":279.9,"v":110},{"t":282.6,"v":133},{"t":285.3,"v":110},{"t":288,"v":132},{"t":290.7,"v":110},{"t":293.4,"v":133},{"t":296.1,"v":110},{"t":298.8,"v":132},{"t":300,"v":118}],
"d16":[{"t":0,"v":100.5},{"t":2,"v":103},{"t":5,"v":104.5},{"t":8,"v":105},{"t":12,"v":103},{"t":16,"v":105},{"t":22,"v":105.5},{"t":28,"v":104},{"t":32,"v":103},{"t":37,"v":105},{"t":42,"v":104},{"t":48,"v":105.5},{"t":54,"v":105},{"t":62,"v":106},{"t":70,"v":105.5},{"t":80,"v":106.5},{"t":88,"v":103.5},{"t":95,"v":106.5},{"t":100,"v":107},{"t":110,"v":106},{"t":120,"v":107},{"t":130,"v":106.5},{"t":140,"v":107},{"t":150,"v":107.5},{"t":165,"v":107},{"t":180,"v":108},{"t":195,"v":107.5},{"t":210,"v":108},{"t":225,"v":108.5},{"t":240,"v":108},{"t":255,"v":108.5},{"t":270,"v":108.5},{"t":280,"v":108},{"t":292,"v":109.5},{"t":296,"v":108},{"t":300,"v":107.5}]
},
"hconcat":[
 {"vconcat":[
  {"title":{"text":"100% Dopa","offset":8},"width":197,"height":96,"layer":[{"data":{"name":"d1"},"mark":{"type":"line","color":"#1a1a1a","strokeWidth":1.5},"encoding":{"x":{"field":"t","type":"quantitative","scale":{"domain":[0,300],"nice":false},"axis":{"values":[0,50,100,150,200,250,300],"tickCount":10,"title":"Time (sec)"}},"y":{"field":"v","type":"quantitative","scale":{"domain":[90,200],"nice":false},"axis":{"values":[100,120,140,160,180,200],"tickCount":10,"title":"RFU (%)"}}}},{"data":{"values":[{}]},"mark":{"type":"rule","strokeDash":[2,1.5],"color":"#111","strokeWidth":0.8},"encoding":{"y":{"datum":100}}}]},
  {"title":{"text":"90% Dopa 10% GABA","offset":8},"width":197,"height":96,"layer":[{"data":{"name":"d3"},"mark":{"type":"line","color":"#1a1a1a","strokeWidth":1.5},"encoding":{"x":{"field":"t","type":"quantitative","scale":{"domain":[0,300],"nice":false},"axis":{"values":[0,50,100,150,200,250,300],"tickCount":10,"title":"Time (sec)"}},"y":{"field":"v","type":"quantitative","scale":{"domain":[90,200],"nice":false},"axis":{"values":[100,120,140,160,180,200],"tickCount":10,"title":"RFU (%)"}}}},{"data":{"values":[{}]},"mark":{"type":"rule","strokeDash":[2,1.5],"color":"#111","strokeWidth":0.8},"encoding":{"y":{"datum":100}}}]},
  {"title":{"text":"80% Dopa 20% GABA","offset":8},"width":197,"height":96,"layer":[{"data":{"name":"d5"},"mark":{"type":"line","color":"#1a1a1a","strokeWidth":1.5},"encoding":{"x":{"field":"t","type":"quantitative","scale":{"domain":[0,300],"nice":false},"axis":{"values":[0,50,100,150,200,250,300],"tickCount":10,"title":"Time (sec)"}},"y":{"field":"v","type":"quantitative","scale":{"domain":[90,200],"nice":false},"axis":{"values":[100,120,140,160,180,200],"tickCount":10,"title":"RFU (%)"}}}},{"data":{"values":[{}]},"mark":{"type":"rule","strokeDash":[2,1.5],"color":"#111","strokeWidth":0.8},"encoding":{"y":{"datum":100}}}]},
  {"title":{"text":["80% Dopa 10% Gluta","10% GABA"],"offset":1},"width":197,"height":96,"layer":[{"data":{"name":"d7"},"mark":{"type":"line","color":"#1a1a1a","strokeWidth":1.5},"encoding":{"x":{"field":"t","type":"quantitative","scale":{"domain":[0,300],"nice":false},"axis":{"values":[0,50,100,150,200,250,300],"tickCount":10,"title":"Time (sec)"}},"y":{"field":"v","type":"quantitative","scale":{"domain":[90,200],"nice":false},"axis":{"values":[100,120,140,160,180,200],"tickCount":10,"title":"RFU (%)"}}}},{"data":{"values":[{}]},"mark":{"type":"rule","strokeDash":[2,1.5],"color":"#111","strokeWidth":0.8},"encoding":{"y":{"datum":100}}}]},
  {"title":{"text":["60% Dopa 20% Gluta","20% GABA"],"offset":1},"width":197,"height":96,"layer":[{"data":{"name":"d9"},"mark":{"type":"line","color":"#1a1a1a","strokeWidth":1.5},"encoding":{"x":{"field":"t","type":"quantitative","scale":{"domain":[0,300],"nice":false},"axis":{"values":[0,50,100,150,200,250,300],"tickCount":10,"title":"Time (sec)"}},"y":{"field":"v","type":"quantitative","scale":{"domain":[90,200],"nice":false},"axis":{"values":[100,120,140,160,180,200],"tickCount":10,"title":"RFU (%)"}}}},{"data":{"values":[{}]},"mark":{"type":"rule","strokeDash":[2,1.5],"color":"#111","strokeWidth":0.8},"encoding":{"y":{"datum":100}}}]},
  {"title":{"text":"50% Dopa 50% Gluta","offset":8},"width":197,"height":96,"layer":[{"data":{"name":"d11"},"mark":{"type":"line","color":"#1a1a1a","strokeWidth":1.5},"encoding":{"x":{"field":"t","type":"quantitative","scale":{"domain":[0,300],"nice":false},"axis":{"values":[0,50,100,150,200,250,300],"tickCount":10,"title":"Time (sec)"}},"y":{"field":"v","type":"quantitative","scale":{"domain":[90,200],"nice":false},"axis":{"values":[100,120,140,160,180,200],"tickCount":10,"title":"RFU (%)"}}}},{"data":{"values":[{}]},"mark":{"type":"rule","strokeDash":[2,1.5],"color":"#111","strokeWidth":0.8},"encoding":{"y":{"datum":100}}}]},
  {"title":{"text":["33% Dopa 33% Gluta","33% GABA"],"offset":1},"width":197,"height":96,"layer":[{"data":{"name":"d13"},"mark":{"type":"line","color":"#1a1a1a","strokeWidth":1.5},"encoding":{"x":{"field":"t","type":"quantitative","scale":{"domain":[0,300],"nice":false},"axis":{"values":[0,50,100,150,200,250,300],"tickCount":10,"title":"Time (sec)"}},"y":{"field":"v","type":"quantitative","scale":{"domain":[90,200],"nice":false},"axis":{"values":[100,120,140,160,180,200],"tickCount":10,"title":"RFU (%)"}}}},{"data":{"values":[{}]},"mark":{"type":"rule","strokeDash":[2,1.5],"color":"#111","strokeWidth":0.8},"encoding":{"y":{"datum":100}}}]},
  {"title":{"text":["25% Dopa 25% Gluta","50% GABA"],"offset":1},"width":197,"height":96,"layer":[{"data":{"name":"d15"},"mark":{"type":"line","color":"#1a1a1a","strokeWidth":1.5},"encoding":{"x":{"field":"t","type":"quantitative","scale":{"domain":[0,300],"nice":false},"axis":{"values":[0,50,100,150,200,250,300],"tickCount":10,"title":"Time (sec)"}},"y":{"field":"v","type":"quantitative","scale":{"domain":[90,200],"nice":false},"axis":{"values":[100,120,140,160,180,200],"tickCount":10,"title":"RFU (%)"}}}},{"data":{"values":[{}]},"mark":{"type":"rule","strokeDash":[2,1.5],"color":"#111","strokeWidth":0.8},"encoding":{"y":{"datum":100}}}]}
 ],"spacing":60.4,"bounds":"flush"},
 {"vconcat":[
  {"vconcat":[
   {"title":{"text":"100% Gluta","offset":8},"width":196,"height":96,"layer":[{"data":{"name":"d2"},"mark":{"type":"line","color":"#1a1a1a","strokeWidth":1.5},"encoding":{"x":{"field":"t","type":"quantitative","scale":{"domain":[0,300],"nice":false},"axis":{"values":[0,50,100,150,200,250,300],"tickCount":10,"title":"Time (sec)"}},"y":{"field":"v","type":"quantitative","scale":{"domain":[90,200],"nice":false},"axis":{"values":[100,120,140,160,180,200],"tickCount":10,"title":"RFU (%)"}}}},{"data":{"values":[{}]},"mark":{"type":"rule","strokeDash":[2,1.5],"color":"#111","strokeWidth":0.8},"encoding":{"y":{"datum":100}}}]},
   {"title":{"text":["10% Dopa 80% Gluta","10% GABA"],"offset":1},"width":196,"height":96,"layer":[{"data":{"name":"d4"},"mark":{"type":"line","color":"#1a1a1a","strokeWidth":1.5},"encoding":{"x":{"field":"t","type":"quantitative","scale":{"domain":[0,300],"nice":false},"axis":{"values":[0,50,100,150,200,250,300],"tickCount":10,"title":"Time (sec)"}},"y":{"field":"v","type":"quantitative","scale":{"domain":[90,200],"nice":false},"axis":{"values":[100,120,140,160,180,200],"tickCount":10,"title":"RFU (%)"}}}},{"data":{"values":[{}]},"mark":{"type":"rule","strokeDash":[2,1.5],"color":"#111","strokeWidth":0.8},"encoding":{"y":{"datum":100}}}]},
   {"title":{"text":["25% Dopa 50% Gluta","25% GABA"],"offset":1},"width":196,"height":96,"layer":[{"data":{"name":"d6"},"mark":{"type":"line","color":"#1a1a1a","strokeWidth":1.5},"encoding":{"x":{"field":"t","type":"quantitative","scale":{"domain":[0,300],"nice":false},"axis":{"values":[0,50,100,150,200,250,300],"tickCount":10,"title":"Time (sec)"}},"y":{"field":"v","type":"quantitative","scale":{"domain":[90,200],"nice":false},"axis":{"values":[100,120,140,160,180,200],"tickCount":10,"title":"RFU (%)"}}}},{"data":{"values":[{}]},"mark":{"type":"rule","strokeDash":[2,1.5],"color":"#111","strokeWidth":0.8},"encoding":{"y":{"datum":100}}}]},
   {"title":{"text":"50% Gluta 50% GABA","offset":8},"width":196,"height":96,"layer":[{"data":{"name":"d8"},"mark":{"type":"line","color":"#1a1a1a","strokeWidth":1.5},"encoding":{"x":{"field":"t","type":"quantitative","scale":{"domain":[0,300],"nice":false},"axis":{"values":[0,50,100,150,200,250,300],"tickCount":10,"title":"Time (sec)"}},"y":{"field":"v","type":"quantitative","scale":{"domain":[90,200],"nice":false},"axis":{"values":[100,120,140,160,180,200],"tickCount":10,"title":"RFU (%)"}}}},{"data":{"values":[{}]},"mark":{"type":"rule","strokeDash":[2,1.5],"color":"#111","strokeWidth":0.8},"encoding":{"y":{"datum":100}}}]}
  ],"spacing":60.5,"bounds":"flush"},
  {"vconcat":[
   {"title":{"text":["10% Dopa 10% Gluta","80% GABA"],"offset":1},"width":196,"height":96,"layer":[{"data":{"name":"d10"},"mark":{"type":"line","color":"#1a1a1a","strokeWidth":1.5},"encoding":{"x":{"field":"t","type":"quantitative","scale":{"domain":[0,300],"nice":false},"axis":{"values":[0,50,100,150,200,250,300],"tickCount":10,"title":"Time (sec)"}},"y":{"field":"v","type":"quantitative","scale":{"domain":[90,200],"nice":false},"axis":{"values":[100,120,140,160,180,200],"tickCount":10,"title":"RFU (%)","titlePadding":7}}}},{"data":{"values":[{}]},"mark":{"type":"rule","strokeDash":[2,1.5],"color":"#111","strokeWidth":0.8},"encoding":{"y":{"datum":100}}}]},
   {"title":{"text":"20% Dopa 80% GABA","offset":8},"width":196,"height":96,"layer":[{"data":{"name":"d12"},"mark":{"type":"line","color":"#1a1a1a","strokeWidth":1.5},"encoding":{"x":{"field":"t","type":"quantitative","scale":{"domain":[0,300],"nice":false},"axis":{"values":[0,50,100,150,200,250,300],"tickCount":10,"title":"Time (sec)"}},"y":{"field":"v","type":"quantitative","scale":{"domain":[90,200],"nice":false},"axis":{"values":[100,120,140,160,180,200],"tickCount":10,"title":"RFU (%)","titlePadding":7}}}},{"data":{"values":[{}]},"mark":{"type":"rule","strokeDash":[2,1.5],"color":"#111","strokeWidth":0.8},"encoding":{"y":{"datum":100}}}]},
   {"title":{"text":"10% Dopa 90% GABA","offset":8},"width":196,"height":96,"layer":[{"data":{"name":"d14"},"mark":{"type":"line","color":"#1a1a1a","strokeWidth":1.5},"encoding":{"x":{"field":"t","type":"quantitative","scale":{"domain":[0,300],"nice":false},"axis":{"values":[0,50,100,150,200,250,300],"tickCount":10,"title":"Time (sec)"}},"y":{"field":"v","type":"quantitative","scale":{"domain":[90,200],"nice":false},"axis":{"values":[100,120,140,160,180,200],"tickCount":10,"title":"RFU (%)","titlePadding":7}}}},{"data":{"values":[{}]},"mark":{"type":"rule","strokeDash":[2,1.5],"color":"#111","strokeWidth":0.8},"encoding":{"y":{"datum":100}}}]},
   {"title":{"text":"100% GABA","offset":8},"width":196,"height":96,"layer":[{"data":{"name":"d16"},"mark":{"type":"line","color":"#1a1a1a","strokeWidth":1.5},"encoding":{"x":{"field":"t","type":"quantitative","scale":{"domain":[0,300],"nice":false},"axis":{"values":[0,50,100,150,200,250,300],"tickCount":10,"title":"Time (sec)"}},"y":{"field":"v","type":"quantitative","scale":{"domain":[90,200],"nice":false},"axis":{"values":[100,120,140,160,180,200],"tickCount":10,"title":"RFU (%)","titlePadding":7}}}},{"data":{"values":[{}]},"mark":{"type":"rule","strokeDash":[2,1.5],"color":"#111","strokeWidth":0.8},"encoding":{"y":{"datum":100}}}]}
  ],"spacing":60.3,"bounds":"flush"}
 ],"spacing":17}
],
"spacing":25
}
